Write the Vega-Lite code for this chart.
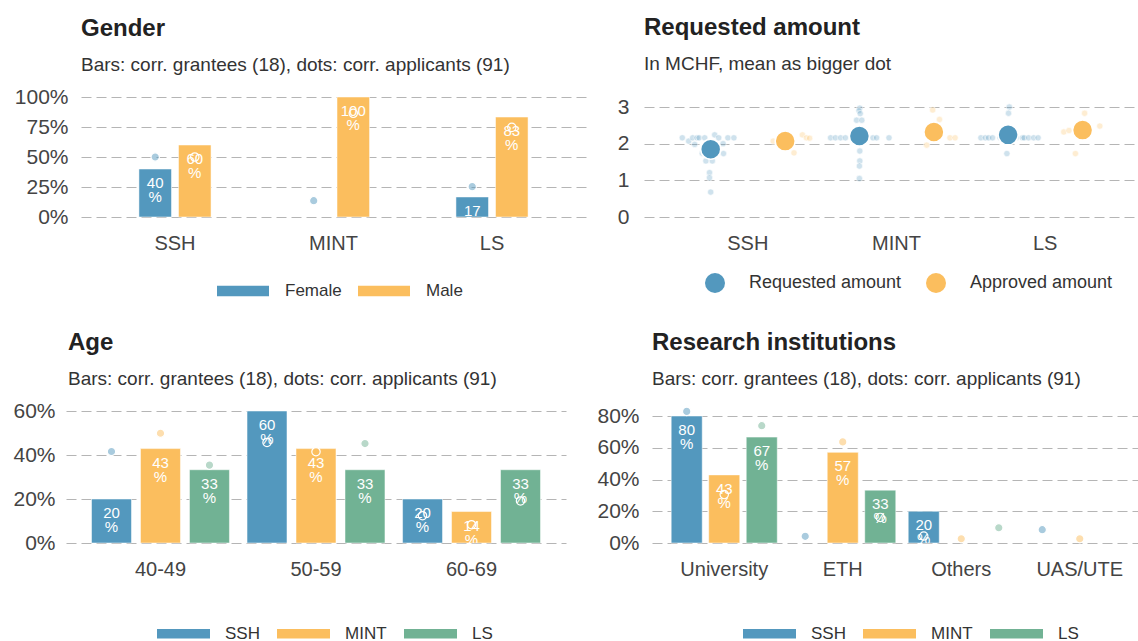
{
  "$schema": "https://vega.github.io/schema/vega-lite/v6.json",
  "background": "white",
  "padding": {"left": 12, "top": 16, "right": 0, "bottom": 0},
  "config": {
    "font": "Liberation Sans",
    "view": {"stroke": null},
    "axis": {"labelFont": "Liberation Sans", "labelColor": "#444444", "domain": false, "ticks": false},
    "axisX": {"labelFontSize": 20, "labelPadding": 16, "grid": false, "labelAngle": 0},
    "axisY": {"labelFontSize": 21, "labelPadding": 13, "grid": true, "gridColor": "#b5b5b5", "gridDash": [10, 5], "gridWidth": 1.2, "labelOverlap": false},
    "title": {"anchor": "start", "frame": "group", "font": "Liberation Sans", "fontSize": 24, "fontWeight": "bold", "color": "#222222", "subtitleFont": "Liberation Sans", "subtitleFontSize": 19, "subtitleColor": "#333333", "subtitlePadding": 15, "offset": 11},
    "legend": {"labelFont": "Liberation Sans", "labelFontSize": 17, "labelColor": "#333333", "orient": "bottom", "direction": "horizontal", "layout": {"bottom": {"anchor": "middle"}}}
  },
  "datasets": {
    "gender": [
      {"field": "SSH", "gender": "Female", "grantees": 40, "applicants": 50},
      {"field": "SSH", "gender": "Male", "grantees": 60, "applicants": 50},
      {"field": "MINT", "gender": "Female", "grantees": 0, "applicants": 13.6},
      {"field": "MINT", "gender": "Male", "grantees": 100, "applicants": 86.4},
      {"field": "LS", "gender": "Female", "grantees": 16.7, "applicants": 25.3},
      {"field": "LS", "gender": "Male", "grantees": 83.3, "applicants": 74.7}
    ],
    "age": [
      {"age": "40-49", "field": "SSH", "grantees": 20, "applicants": 41.6},
      {"age": "40-49", "field": "MINT", "grantees": 42.9, "applicants": 49.9},
      {"age": "40-49", "field": "LS", "grantees": 33.3, "applicants": 35.4},
      {"age": "50-59", "field": "SSH", "grantees": 60, "applicants": 45.7},
      {"age": "50-59", "field": "MINT", "grantees": 42.9, "applicants": 41.5},
      {"age": "50-59", "field": "LS", "grantees": 33.3, "applicants": 45.2},
      {"age": "60-69", "field": "SSH", "grantees": 20, "applicants": 12.4},
      {"age": "60-69", "field": "MINT", "grantees": 14.3, "applicants": 8.3},
      {"age": "60-69", "field": "LS", "grantees": 33.3, "applicants": 19.1}
    ],
    "inst": [
      {"inst": "University", "field": "SSH", "grantees": 80, "applicants": 82.9},
      {"inst": "University", "field": "MINT", "grantees": 42.9, "applicants": 30.5},
      {"inst": "University", "field": "LS", "grantees": 66.7, "applicants": 73.9},
      {"inst": "ETH", "field": "SSH", "grantees": 0, "applicants": 4.2},
      {"inst": "ETH", "field": "MINT", "grantees": 57.1, "applicants": 63.7},
      {"inst": "ETH", "field": "LS", "grantees": 33.3, "applicants": 16.1},
      {"inst": "Others", "field": "SSH", "grantees": 20, "applicants": 4.4},
      {"inst": "Others", "field": "MINT", "grantees": 0, "applicants": 2.7},
      {"inst": "Others", "field": "LS", "grantees": 0, "applicants": 9.6},
      {"inst": "UAS/UTE", "field": "SSH", "grantees": 0, "applicants": 8.4},
      {"inst": "UAS/UTE", "field": "MINT", "grantees": 0, "applicants": 2.7},
      {"inst": "UAS/UTE", "field": "LS", "grantees": 0, "applicants": null}
    ],
    "amounts": [
      {"field": "SSH", "series": "Requested amount", "kind": "mean", "amount": 1.85, "jitter": 0},
      {"field": "MINT", "series": "Requested amount", "kind": "mean", "amount": 2.21, "jitter": 0},
      {"field": "LS", "series": "Requested amount", "kind": "mean", "amount": 2.24, "jitter": 0},
      {"field": "SSH", "series": "Approved amount", "kind": "mean", "amount": 2.07, "jitter": 0},
      {"field": "MINT", "series": "Approved amount", "kind": "mean", "amount": 2.32, "jitter": 0},
      {"field": "LS", "series": "Approved amount", "kind": "mean", "amount": 2.37, "jitter": 0},
      {"field": "SSH", "series": "Requested amount", "kind": "single", "amount": 2.16, "jitter": -0.71},
      {"field": "SSH", "series": "Requested amount", "kind": "single", "amount": 2.07, "jitter": -0.55},
      {"field": "SSH", "series": "Requested amount", "kind": "single", "amount": 2.16, "jitter": -0.45},
      {"field": "SSH", "series": "Requested amount", "kind": "single", "amount": 1.98, "jitter": -0.40},
      {"field": "SSH", "series": "Requested amount", "kind": "single", "amount": 2.16, "jitter": -0.34},
      {"field": "SSH", "series": "Requested amount", "kind": "single", "amount": 2.16, "jitter": -0.29},
      {"field": "SSH", "series": "Requested amount", "kind": "single", "amount": 1.74, "jitter": -0.21},
      {"field": "SSH", "series": "Requested amount", "kind": "single", "amount": 1.53, "jitter": -0.12},
      {"field": "SSH", "series": "Requested amount", "kind": "single", "amount": 1.53, "jitter": 0.04},
      {"field": "SSH", "series": "Requested amount", "kind": "single", "amount": 1.21, "jitter": -0.03},
      {"field": "SSH", "series": "Requested amount", "kind": "single", "amount": 1.07, "jitter": -0.03},
      {"field": "SSH", "series": "Requested amount", "kind": "single", "amount": 0.68, "jitter": 0.0},
      {"field": "SSH", "series": "Requested amount", "kind": "single", "amount": 2.24, "jitter": 0.10},
      {"field": "SSH", "series": "Requested amount", "kind": "single", "amount": 2.0, "jitter": 0.31},
      {"field": "SSH", "series": "Requested amount", "kind": "single", "amount": 1.73, "jitter": 0.32},
      {"field": "SSH", "series": "Requested amount", "kind": "single", "amount": 2.16, "jitter": 0.43},
      {"field": "SSH", "series": "Requested amount", "kind": "single", "amount": 2.16, "jitter": 0.58},
      {"field": "SSH", "series": "Requested amount", "kind": "single", "amount": 1.9, "jitter": -0.05},
      {"field": "SSH", "series": "Requested amount", "kind": "single", "amount": 1.85, "jitter": 0.15},
      {"field": "SSH", "series": "Requested amount", "kind": "single", "amount": 2.16, "jitter": 0.2},
      {"field": "SSH", "series": "Requested amount", "kind": "single", "amount": 2.16, "jitter": -0.15},
      {"field": "MINT", "series": "Requested amount", "kind": "single", "amount": 2.16, "jitter": -0.72},
      {"field": "MINT", "series": "Requested amount", "kind": "single", "amount": 2.16, "jitter": -0.60},
      {"field": "MINT", "series": "Requested amount", "kind": "single", "amount": 2.16, "jitter": -0.47},
      {"field": "MINT", "series": "Requested amount", "kind": "single", "amount": 2.16, "jitter": -0.35},
      {"field": "MINT", "series": "Requested amount", "kind": "single", "amount": 2.16, "jitter": 0.34},
      {"field": "MINT", "series": "Requested amount", "kind": "single", "amount": 2.16, "jitter": 0.43},
      {"field": "MINT", "series": "Requested amount", "kind": "single", "amount": 2.16, "jitter": 0.74},
      {"field": "MINT", "series": "Requested amount", "kind": "single", "amount": 2.97, "jitter": 0.01},
      {"field": "MINT", "series": "Requested amount", "kind": "single", "amount": 2.9, "jitter": -0.01},
      {"field": "MINT", "series": "Requested amount", "kind": "single", "amount": 2.82, "jitter": 0.02},
      {"field": "MINT", "series": "Requested amount", "kind": "single", "amount": 2.64, "jitter": -0.07},
      {"field": "MINT", "series": "Requested amount", "kind": "single", "amount": 2.64, "jitter": 0.06},
      {"field": "MINT", "series": "Requested amount", "kind": "single", "amount": 1.8, "jitter": 0.01},
      {"field": "MINT", "series": "Requested amount", "kind": "single", "amount": 1.53, "jitter": 0.01},
      {"field": "MINT", "series": "Requested amount", "kind": "single", "amount": 1.39, "jitter": 0.0},
      {"field": "MINT", "series": "Requested amount", "kind": "single", "amount": 1.05, "jitter": 0.0},
      {"field": "MINT", "series": "Requested amount", "kind": "single", "amount": 2.3, "jitter": 0.0},
      {"field": "LS", "series": "Requested amount", "kind": "single", "amount": 2.16, "jitter": -0.68},
      {"field": "LS", "series": "Requested amount", "kind": "single", "amount": 2.16, "jitter": -0.57},
      {"field": "LS", "series": "Requested amount", "kind": "single", "amount": 2.16, "jitter": -0.49},
      {"field": "LS", "series": "Requested amount", "kind": "single", "amount": 2.16, "jitter": -0.39},
      {"field": "LS", "series": "Requested amount", "kind": "single", "amount": 2.16, "jitter": -0.2},
      {"field": "LS", "series": "Requested amount", "kind": "single", "amount": 2.16, "jitter": 0.2},
      {"field": "LS", "series": "Requested amount", "kind": "single", "amount": 2.16, "jitter": 0.36},
      {"field": "LS", "series": "Requested amount", "kind": "single", "amount": 2.16, "jitter": 0.40},
      {"field": "LS", "series": "Requested amount", "kind": "single", "amount": 2.16, "jitter": 0.51},
      {"field": "LS", "series": "Requested amount", "kind": "single", "amount": 2.16, "jitter": 0.64},
      {"field": "LS", "series": "Requested amount", "kind": "single", "amount": 2.16, "jitter": 0.75},
      {"field": "LS", "series": "Requested amount", "kind": "single", "amount": 3.0, "jitter": 0.03},
      {"field": "LS", "series": "Requested amount", "kind": "single", "amount": 2.83, "jitter": 0.01},
      {"field": "LS", "series": "Requested amount", "kind": "single", "amount": 1.73, "jitter": -0.03},
      {"field": "SSH", "series": "Approved amount", "kind": "single", "amount": 2.07, "jitter": -0.30},
      {"field": "SSH", "series": "Approved amount", "kind": "single", "amount": 2.24, "jitter": 0.43},
      {"field": "SSH", "series": "Approved amount", "kind": "single", "amount": 2.16, "jitter": 0.53},
      {"field": "SSH", "series": "Approved amount", "kind": "single", "amount": 2.15, "jitter": 0.61},
      {"field": "SSH", "series": "Approved amount", "kind": "single", "amount": 1.75, "jitter": 0.22},
      {"field": "SSH", "series": "Approved amount", "kind": "single", "amount": 2.1, "jitter": -0.1},
      {"field": "MINT", "series": "Approved amount", "kind": "single", "amount": 2.92, "jitter": -0.03},
      {"field": "MINT", "series": "Approved amount", "kind": "single", "amount": 2.66, "jitter": 0.14},
      {"field": "MINT", "series": "Approved amount", "kind": "single", "amount": 2.16, "jitter": 0.40},
      {"field": "MINT", "series": "Approved amount", "kind": "single", "amount": 2.16, "jitter": 0.53},
      {"field": "MINT", "series": "Approved amount", "kind": "single", "amount": 1.96, "jitter": -0.18},
      {"field": "MINT", "series": "Approved amount", "kind": "single", "amount": 2.2, "jitter": 0.0},
      {"field": "LS", "series": "Approved amount", "kind": "single", "amount": 2.83, "jitter": 0.05},
      {"field": "LS", "series": "Approved amount", "kind": "single", "amount": 2.48, "jitter": 0.43},
      {"field": "LS", "series": "Approved amount", "kind": "single", "amount": 2.32, "jitter": -0.47},
      {"field": "LS", "series": "Approved amount", "kind": "single", "amount": 2.36, "jitter": -0.34},
      {"field": "LS", "series": "Approved amount", "kind": "single", "amount": 1.73, "jitter": -0.18},
      {"field": "LS", "series": "Approved amount", "kind": "single", "amount": 2.5, "jitter": 0.05}
    ]
  },
  "resolve": {"scale": {"color": "independent", "xOffset": "independent"}},
  "spacing": 31,
  "vconcat": [
    {
      "resolve": {"scale": {"color": "independent", "xOffset": "independent"}},
      "spacing": 19,
      "hconcat": [
        {
          "width": 517,
          "height": 120,
          "title": {"text": "Gender", "subtitle": "Bars: corr. grantees (18), dots: corr. applicants (91)", "offset": 11},
          "data": {"name": "gender"},
          "encoding": {
            "x": {"field": "field", "type": "nominal", "title": null, "scale": {"domain": ["SSH", "MINT", "LS"], "range": [0, 505], "paddingInner": 0.545, "paddingOuter": 0.3655}},
            "xOffset": {"field": "gender", "type": "nominal", "scale": {"domain": ["Female", "Male"], "paddingInner": 0.177, "paddingOuter": 0}}
          },
          "layer": [
            {
              "transform": [{"filter": "datum.grantees > 0"}],
              "mark": {"type": "bar", "stroke": "white", "strokeWidth": 1, "strokeOpacity": 0.5},
              "encoding": {
                "y": {"field": "grantees", "type": "quantitative", "title": null, "scale": {"domain": [0, 100], "nice": false}, "axis": {"values": [0, 25, 50, 75, 100], "labelExpr": "datum.value + '%'"}},
                "color": {"field": "gender", "type": "nominal", "scale": {"domain": ["Female", "Male"], "range": ["#5398BE", "#FBBE5E"]}, "legend": {"title": null, "symbolType": "M-1,-0.2H1V0.2H-1Z", "symbolSize": 2704, "symbolOpacity": 1, "symbolStrokeWidth": 0, "labelOffset": 16, "columnPadding": 16, "offset": 12}}
              }
            },
            {
              "mark": {"type": "circle", "size": 70, "fillOpacity": 0.5, "stroke": "white", "strokeWidth": 1.2},
              "encoding": {
                "y": {"field": "applicants", "type": "quantitative", "title": null, "axis": {"values": [0, 25, 50, 75, 100], "labelExpr": "datum.value + '%'"}},
                "color": {"field": "gender", "type": "nominal"}
              }
            },
            {
              "transform": [{"filter": "datum.grantees > 0"}],
              "mark": {"type": "text", "clip": true, "dy": 14, "baseline": "middle", "fontSize": 15, "fill": "white"},
              "encoding": {
                "y": {"field": "grantees", "type": "quantitative", "title": null, "axis": {"values": [0, 25, 50, 75, 100], "labelExpr": "datum.value + '%'"}},
                "text": {"field": "grantees", "type": "quantitative", "format": ".0f"}
              }
            },
            {
              "transform": [{"filter": "datum.grantees > 0"}],
              "mark": {"type": "text", "text": "%", "clip": true, "dy": 28, "baseline": "middle", "fontSize": 15, "fill": "white"},
              "encoding": {
                "y": {"field": "grantees", "type": "quantitative", "title": null, "axis": {"values": [0, 25, 50, 75, 100], "labelExpr": "datum.value + '%'"}}
              }
            }
          ]
        },
        {
          "width": 530,
          "height": 120,
          "title": {"text": "Requested amount", "subtitle": "In MCHF, mean as bigger dot", "offset": 22},
          "data": {"name": "amounts"},
          "encoding": {
            "x": {"field": "field", "type": "nominal", "title": null, "scale": {"domain": ["SSH", "MINT", "LS"], "range": [0, 505], "paddingInner": 0, "paddingOuter": 0.198}},
            "y": {"field": "amount", "type": "quantitative", "title": null, "scale": {"domain": [0, 3.273], "nice": false}, "axis": {"values": [0, 1, 2, 3], "labelPadding": 15}},
            "color": {"field": "series", "type": "nominal", "scale": {"domain": ["Requested amount", "Approved amount"], "range": ["#5398BE", "#FBBE5E"]}, "legend": {"title": null, "symbolType": "circle", "symbolSize": 400, "symbolOpacity": 1, "symbolStrokeWidth": 0, "labelFontSize": 18, "labelOffset": 24, "columnPadding": 24, "offset": 20}}
          },
          "resolve": {"scale": {"xOffset": "independent"}},
          "layer": [
            {
              "transform": [{"filter": "datum.series === 'Requested amount' && datum.kind === 'single'"}],
              "mark": {"type": "circle", "size": 40, "fillOpacity": 0.28, "stroke": "white", "strokeWidth": 0.6},
              "encoding": {"xOffset": {"field": "jitter", "type": "quantitative", "scale": {"domain": [-1, 1], "range": [-2.75, 77.25]}}}
            },
            {
              "transform": [{"filter": "datum.series === 'Requested amount' && datum.kind === 'mean'"}],
              "mark": {"type": "circle", "size": 400, "opacity": 1, "stroke": "white", "strokeWidth": 1.5},
              "encoding": {"xOffset": {"field": "jitter", "type": "quantitative", "scale": {"domain": [-1, 1], "range": [-2.75, 77.25]}}}
            },
            {
              "transform": [{"filter": "datum.series === 'Approved amount' && datum.kind === 'single'"}],
              "mark": {"type": "circle", "size": 40, "fillOpacity": 0.28, "stroke": "white", "strokeWidth": 0.6},
              "encoding": {"xOffset": {"field": "jitter", "type": "quantitative", "scale": {"domain": [-1, 1], "range": [71.75, 151.75]}}}
            },
            {
              "transform": [{"filter": "datum.series === 'Approved amount' && datum.kind === 'mean'"}],
              "mark": {"type": "circle", "size": 400, "opacity": 1, "stroke": "white", "strokeWidth": 1.5},
              "encoding": {"xOffset": {"field": "jitter", "type": "quantitative", "scale": {"domain": [-1, 1], "range": [71.75, 151.75]}}}
            }
          ]
        }
      ]
    },
    {
      "resolve": {"scale": {"color": "independent", "xOffset": "independent"}},
      "spacing": 15,
      "hconcat": [
        {
          "width": 487,
          "height": 132,
          "title": {"text": "Age", "subtitle": "Bars: corr. grantees (18), dots: corr. applicants (91)", "offset": 11, "dx": -13},
          "data": {"name": "age"},
          "encoding": {
            "x": {"field": "age", "type": "nominal", "title": null, "scale": {"domain": ["40-49", "50-59", "60-69"], "range": [-15, 485], "paddingInner": 0.113, "paddingOuter": 0.164}},
            "xOffset": {"field": "field", "type": "nominal", "scale": {"domain": ["SSH", "MINT", "LS"], "paddingInner": 0.184, "paddingOuter": 0}}
          },
          "layer": [
            {
              "transform": [{"filter": "datum.grantees > 0"}],
              "mark": {"type": "bar", "stroke": "white", "strokeWidth": 1, "strokeOpacity": 0.5},
              "encoding": {
                "y": {"field": "grantees", "type": "quantitative", "title": null, "scale": {"domain": [0, 60], "nice": false}, "axis": {"values": [0, 20, 40, 60], "labelPadding": 26, "labelExpr": "datum.value + '%'"}},
                "color": {"field": "field", "type": "nominal", "scale": {"domain": ["SSH", "MINT", "LS"], "range": ["#5398BE", "#FBBE5E", "#71B294"]}, "legend": {"title": null, "symbolType": "M-1,-0.18H1V0.18H-1Z", "symbolSize": 2809, "symbolOpacity": 1, "symbolStrokeWidth": 0, "labelOffset": 15, "columnPadding": 17, "offset": 28}}
              }
            },
            {
              "mark": {"type": "circle", "size": 70, "fillOpacity": 0.5, "stroke": "white", "strokeWidth": 1.2},
              "encoding": {
                "y": {"field": "applicants", "type": "quantitative", "title": null, "axis": {"values": [0, 20, 40, 60], "labelPadding": 26, "labelExpr": "datum.value + '%'"}},
                "color": {"field": "field", "type": "nominal"}
              }
            },
            {
              "transform": [{"filter": "datum.grantees > 0"}],
              "mark": {"type": "text", "clip": true, "dy": 14, "baseline": "middle", "fontSize": 15, "fill": "white"},
              "encoding": {
                "y": {"field": "grantees", "type": "quantitative", "title": null, "axis": {"values": [0, 20, 40, 60], "labelPadding": 26, "labelExpr": "datum.value + '%'"}},
                "text": {"field": "grantees", "type": "quantitative", "format": ".0f"}
              }
            },
            {
              "transform": [{"filter": "datum.grantees > 0"}],
              "mark": {"type": "text", "text": "%", "clip": true, "dy": 28, "baseline": "middle", "fontSize": 15, "fill": "white"},
              "encoding": {
                "y": {"field": "grantees", "type": "quantitative", "title": null, "axis": {"values": [0, 20, 40, 60], "labelPadding": 26, "labelExpr": "datum.value + '%'"}}
              }
            }
          ]
        },
        {
          "width": 518,
          "height": 132,
          "title": {"text": "Research institutions", "subtitle": "Bars: corr. grantees (18), dots: corr. applicants (91)", "offset": 16},
          "data": {"name": "inst"},
          "encoding": {
            "x": {"field": "inst", "type": "nominal", "title": null, "scale": {"domain": ["University", "ETH", "Others", "UAS/UTE"], "range": [0, 500], "paddingInner": 0.105, "paddingOuter": 0.162}},
            "xOffset": {"field": "field", "type": "nominal", "scale": {"domain": ["SSH", "MINT", "LS"], "paddingInner": 0.173, "paddingOuter": 0}}
          },
          "layer": [
            {
              "transform": [{"filter": "datum.grantees > 0"}],
              "mark": {"type": "bar", "stroke": "white", "strokeWidth": 1, "strokeOpacity": 0.5},
              "encoding": {
                "y": {"field": "grantees", "type": "quantitative", "title": null, "scale": {"domain": [0, 83.15], "nice": false}, "axis": {"values": [0, 20, 40, 60, 80], "labelExpr": "datum.value + '%'"}},
                "color": {"field": "field", "type": "nominal", "scale": {"domain": ["SSH", "MINT", "LS"], "range": ["#5398BE", "#FBBE5E", "#71B294"]}, "legend": {"title": null, "symbolType": "M-1,-0.18H1V0.18H-1Z", "symbolSize": 2809, "symbolOpacity": 1, "symbolStrokeWidth": 0, "labelOffset": 15, "columnPadding": 17, "offset": 28}}
              }
            },
            {
              "transform": [{"filter": "datum.applicants > 0"}],
              "mark": {"type": "circle", "size": 70, "fillOpacity": 0.5, "stroke": "white", "strokeWidth": 1.2},
              "encoding": {
                "y": {"field": "applicants", "type": "quantitative", "title": null, "axis": {"values": [0, 20, 40, 60, 80], "labelExpr": "datum.value + '%'"}},
                "color": {"field": "field", "type": "nominal"}
              }
            },
            {
              "transform": [{"filter": "datum.grantees > 0"}],
              "mark": {"type": "text", "clip": true, "dy": 14, "baseline": "middle", "fontSize": 15, "fill": "white"},
              "encoding": {
                "y": {"field": "grantees", "type": "quantitative", "title": null, "axis": {"values": [0, 20, 40, 60, 80], "labelExpr": "datum.value + '%'"}},
                "text": {"field": "grantees", "type": "quantitative", "format": ".0f"}
              }
            },
            {
              "transform": [{"filter": "datum.grantees > 0"}],
              "mark": {"type": "text", "text": "%", "clip": true, "dy": 28, "baseline": "middle", "fontSize": 15, "fill": "white"},
              "encoding": {
                "y": {"field": "grantees", "type": "quantitative", "title": null, "axis": {"values": [0, 20, 40, 60, 80], "labelExpr": "datum.value + '%'"}}
              }
            }
          ]
        }
      ]
    }
  ]
}
